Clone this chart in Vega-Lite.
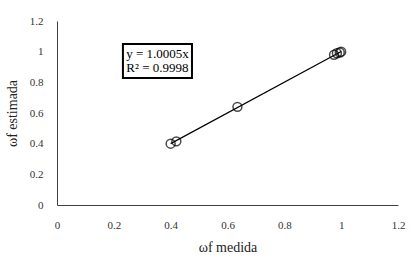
{
  "$schema": "https://vega.github.io/schema/vega-lite/v6.json",
  "width": 341,
  "height": 184,
  "autosize": {"type": "none"},
  "padding": {"left": 57, "top": 21, "right": 12, "bottom": 56},
  "background": "white",
  "config": {
    "view": {"stroke": null},
    "font": "Liberation Serif",
    "axis": {
      "grid": false,
      "ticks": false,
      "domainColor": "#404040",
      "domainWidth": 1,
      "labelFont": "Liberation Serif",
      "labelFontSize": 11,
      "labelColor": "#333333",
      "titleFont": "Liberation Serif",
      "titleFontSize": 14,
      "titleFontWeight": "normal",
      "titleColor": "#222222",
      "labelOverlap": false
    }
  },
  "datasets": {
    "pts": [
      {"x": 0.40, "y": 0.40},
      {"x": 0.42, "y": 0.415},
      {"x": 0.635, "y": 0.64},
      {"x": 0.975, "y": 0.98},
      {"x": 0.985, "y": 0.99},
      {"x": 0.995, "y": 0.995},
      {"x": 1.0, "y": 1.0}
    ],
    "trend": [
      {"x": 0.40, "y": 0.4002},
      {"x": 1.0, "y": 1.0005}
    ],
    "box": [
      {"x": 0.232, "x2": 0.475, "y": 1.05, "y2": 0.828}
    ],
    "labels": [
      {"x": 0.3535, "y": 0.982, "t": "y = 1.0005x"},
      {"x": 0.3535, "y": 0.892, "t": "R² = 0.9998"}
    ]
  },
  "encoding": {
    "x": {"field": "x", "type": "quantitative", "scale": {"domain": [0, 1.2], "nice": false},
      "axis": {"tickCount": 12, "values": [0, 0.2, 0.4, 0.6, 0.8, 1, 1.2], "format": "~g", "labelFlush": false, "title": "ωf medida", "labelPadding": 14, "titlePadding": 10}},
    "y": {"field": "y", "type": "quantitative", "scale": {"domain": [0, 1.2], "nice": false},
      "axis": {"tickCount": 12, "values": [0, 0.2, 0.4, 0.6, 0.8, 1, 1.2], "format": "~g", "labelFlush": false, "title": "ωf estimada", "labelPadding": 14, "titlePadding": 10}}
  },
  "layer": [
    {
      "data": {"name": "trend"},
      "mark": {"type": "line", "color": "black", "strokeWidth": 1.2}
    },
    {
      "data": {"name": "pts"},
      "mark": {"type": "point", "shape": "circle", "filled": false, "color": "black", "strokeWidth": 1.5, "size": 80}
    },
    {
      "data": {"name": "box"},
      "mark": {"type": "rect", "fill": "white", "stroke": "black", "strokeWidth": 2},
      "encoding": {
        "x2": {"field": "x2"},
        "y2": {"field": "y2"}
      }
    },
    {
      "data": {"name": "labels"},
      "mark": {"type": "text", "font": "Liberation Serif", "fontSize": 13, "color": "black", "align": "center", "baseline": "middle"},
      "encoding": {
        "text": {"field": "t"}
      }
    }
  ]
}
